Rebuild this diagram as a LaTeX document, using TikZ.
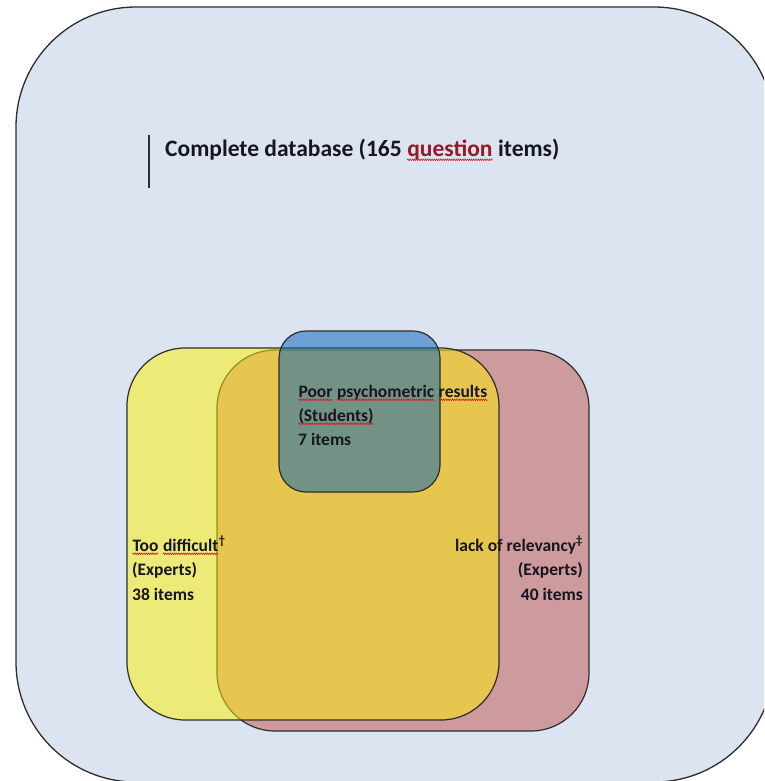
\documentclass[tikz,border=0pt]{standalone}
\usepackage{fontspec}
\setmainfont{Carlito}
\usetikzlibrary{decorations.pathmorphing}
\definecolor{outerbg}{RGB}{219,228,240}
\definecolor{edge}{RGB}{45,45,45}
\definecolor{pinkfill}{RGB}{205,154,158}
\definecolor{bluefill}{RGB}{0,95,190}
\definecolor{txt}{RGB}{22,22,32}
\definecolor{qred}{RGB}{150,25,35}
\definecolor{spellred}{RGB}{230,20,20}
\newcommand\redwave[1]{\tikz[baseline=(wv.base),x=1pt,y=1pt]{\node[inner sep=0pt,outer sep=0pt] (wv) {#1};\draw[spellred, line width=0.6pt, decorate, decoration={zigzag, amplitude=0.8pt, segment length=2.2pt}] ([yshift=-2.8pt]wv.base west) -- ([yshift=-2.8pt]wv.base east);}}
\tikzset{
  region/.style={draw=edge, line width=1.2pt},
  titletxt/.style={font=\bfseries\fontsize{23.5}{26}\selectfont, text=txt, inner sep=0pt, anchor=base west},
  lbl/.style={font=\bfseries\fontsize{17.5}{24}\selectfont, text=txt, inner sep=0pt},
}
\begin{document}
\begin{tikzpicture}[x=1pt,y=-1pt]
\useasboundingbox (0,0) rectangle (764,781);
\clip (0,0) rectangle (764,781);
% outer database box
\draw[region, fill=outerbg, line width=1.3pt, rounded corners=120pt] (16,7) rectangle (774,782);
% title
\draw[edge, line width=1.2pt] (149,135) -- (149,188);
\node[titletxt] (title) at (165,157) {Complete database (165 \textcolor{qred}{\redwave{question}} items)};
% lack of relevancy (pink)
\draw[region, fill=pinkfill, rounded corners=58pt] (217,350) rectangle (589,731);
% too difficult (yellow)
\draw[region, fill=yellow, fill opacity=0.5, rounded corners=58pt] (127,348) rectangle (499,720);
% poor psychometric results (blue)
\draw[region, fill=bluefill, fill opacity=0.5, rounded corners=27pt] (279,331) rectangle (440,492);
% labels
\node[lbl, anchor=base west] (psyA) at (298,397) {\redwave{Poor} \redwave{psychometric} \redwave{results}};
\node[lbl, anchor=base west] (psyB) at (298,421) {\redwave{(Students)}};
\node[lbl, anchor=base west] (psyC) at (298,445) {7 items};
\node[lbl, anchor=base west] (difA) at (132,551) {\redwave{Too} \redwave{difficult}\textsuperscript{†}};
\node[lbl, anchor=base west] (difB) at (132,575) {(Experts)};
\node[lbl, anchor=base west] (difC) at (132,600) {38 items};
\node[lbl, anchor=base east] (relA) at (583,551) {lack of relevancy\textsuperscript{‡}};
\node[lbl, anchor=base east] (relB) at (583,575) {(Experts)};
\node[lbl, anchor=base east] (relC) at (583,600) {40 items};
\end{tikzpicture}
\end{document}
